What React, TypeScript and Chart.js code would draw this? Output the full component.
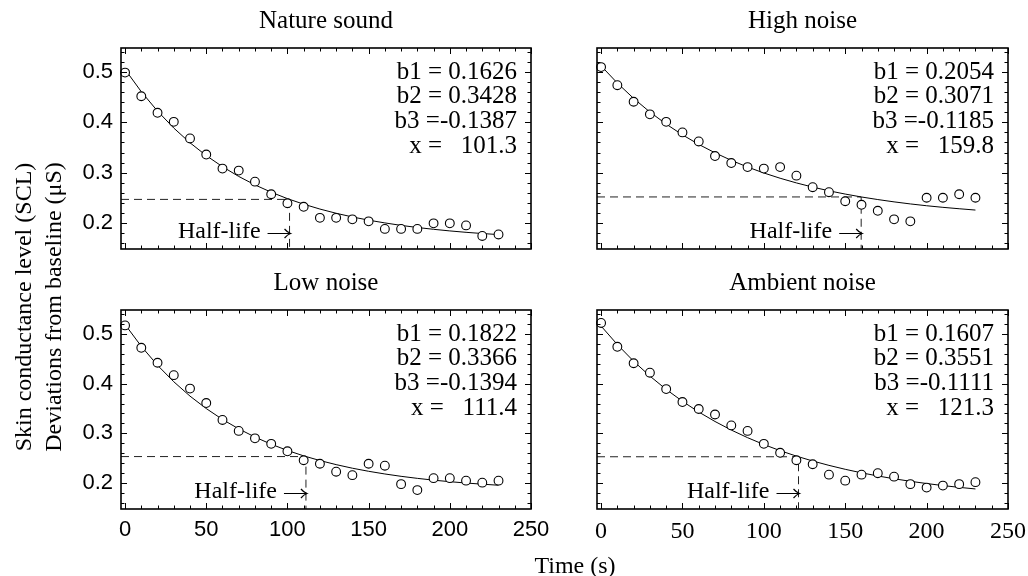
import React, { useEffect, useRef } from "react";
import { Chart, registerables } from "chart.js";

Chart.register(...registerables);

// ---------------- data ----------------
const timeSec = [0, 10, 20, 30, 40, 50, 60, 70, 80, 90, 100, 110, 120, 130, 140, 150, 160, 170, 180, 190, 200, 210, 220, 230];

const natureObs = [0.499, 0.452, 0.419, 0.401, 0.368, 0.336, 0.308, 0.304, 0.282, 0.257, 0.239, 0.232, 0.21, 0.21, 0.207, 0.203, 0.188, 0.188, 0.188, 0.199, 0.199, 0.195, 0.174, 0.177];
const natureFit = [0.5054, 0.461, 0.4224, 0.3887, 0.3594, 0.3339, 0.3118, 0.2924, 0.2756, 0.261, 0.2482, 0.2372, 0.2275, 0.2191, 0.2118, 0.2054, 0.1999, 0.195, 0.1908, 0.1872, 0.184, 0.1812, 0.1788, 0.1767];

const highObs = [0.51, 0.474, 0.441, 0.416, 0.401, 0.38, 0.362, 0.333, 0.319, 0.311, 0.308, 0.311, 0.294, 0.271, 0.261, 0.243, 0.236, 0.224, 0.207, 0.203, 0.25, 0.25, 0.257, 0.25];
const highFit = [0.5125, 0.4782, 0.4477, 0.4206, 0.3966, 0.3752, 0.3562, 0.3394, 0.3244, 0.3111, 0.2993, 0.2888, 0.2795, 0.2712, 0.2638, 0.2573, 0.2515, 0.2464, 0.2418, 0.2377, 0.2341, 0.2309, 0.2281, 0.2255];

const lowObs = [0.517, 0.472, 0.442, 0.417, 0.39, 0.361, 0.327, 0.305, 0.29, 0.279, 0.264, 0.246, 0.239, 0.223, 0.216, 0.239, 0.235, 0.198, 0.186, 0.21, 0.21, 0.205, 0.201, 0.205];
const lowFit = [0.5188, 0.475, 0.4369, 0.4038, 0.3749, 0.3499, 0.328, 0.3091, 0.2926, 0.2782, 0.2657, 0.2548, 0.2454, 0.2372, 0.23, 0.2238, 0.2184, 0.2137, 0.2096, 0.206, 0.2029, 0.2002, 0.1979, 0.1958];

const ambientObs = [0.522, 0.474, 0.441, 0.422, 0.389, 0.363, 0.349, 0.338, 0.316, 0.305, 0.279, 0.261, 0.246, 0.238, 0.217, 0.205, 0.217, 0.22, 0.213, 0.198, 0.191, 0.195, 0.198, 0.202];
const ambientFit = [0.5158, 0.4785, 0.4451, 0.4152, 0.3884, 0.3645, 0.343, 0.3239, 0.3067, 0.2914, 0.2776, 0.2653, 0.2543, 0.2445, 0.2357, 0.2278, 0.2207, 0.2144, 0.2088, 0.2037, 0.1992, 0.1951, 0.1915, 0.1883];

const panelTitles = ["Nature sound", "High noise", "Low noise", "Ambient noise"];
const natureParams = ["b1 = 0.1626", "b2 = 0.3428", "b3 =-0.1387", "x =   101.3"];
const highParams = ["b1 = 0.2054", "b2 = 0.3071", "b3 =-0.1185", "x =   159.8"];
const lowParams = ["b1 = 0.1822", "b2 = 0.3366", "b3 =-0.1394", "x =   111.4"];
const ambientParams = ["b1 = 0.1607", "b2 = 0.3551", "b3 =-0.1111", "x =   121.3"];

const halfLifeX = [101.3, 159.8, 111.4, 121.3];
const halfLifeY = [0.2467, 0.2516, 0.2534, 0.253];
const halfLifeLabel = "Half-life";

const yTickValues = [0.2, 0.3, 0.4, 0.5];
const xTickValues = [0, 50, 100, 150, 200, 250];
const X_MIN = -2.5;
const X_MAX = 250;
const Y_MIN = 0.148;
const Y_MAX = 0.548;

const yAxisTitle = ["Skin conductance level (SCL)", "Deviations from baseline (\u03bcS)"];
const xAxisTitle = "Time (s)";

// ---------------- styling / layout ----------------
const SERIF = '"Liberation Serif", "Times New Roman", Times, serif';
const SANS = '"Liberation Sans", Arial, Helvetica, sans-serif';

const panels = [
  { title: panelTitles[0], obs: natureObs, fit: natureFit, params: natureParams, hx: halfLifeX[0], hy: halfLifeY[0], L: 121, T: 48, R: 531, B: 249, yLabels: true, xLabels: false, xFont: SANS, xSize: 22 },
  { title: panelTitles[1], obs: highObs, fit: highFit, params: highParams, hx: halfLifeX[1], hy: halfLifeY[1], L: 597, T: 48, R: 1008, B: 249, yLabels: false, xLabels: false, xFont: SERIF, xSize: 24 },
  { title: panelTitles[2], obs: lowObs, fit: lowFit, params: lowParams, hx: halfLifeX[2], hy: halfLifeY[2], L: 121, T: 310, R: 531, B: 509, yLabels: true, xLabels: true, xFont: SANS, xSize: 22 },
  { title: panelTitles[3], obs: ambientObs, fit: ambientFit, params: ambientParams, hx: halfLifeX[3], hy: halfLifeY[3], L: 597, T: 310, R: 1008, B: 509, yLabels: false, xLabels: true, xFont: SERIF, xSize: 24 },
];

const YW = 60;
const TITLE_H = 42;
const XH = 45;

function Panel({ p }: { p: any }) {
  const ref = useRef<HTMLCanvasElement>(null);
  const w = p.R - p.L;
  const h = p.B - p.T;
  const cw = YW * 2 + w;
  const ch = TITLE_H + h + XH;

  useEffect(() => {
    const framePlugin = {
      id: "frameTicks",
      afterDraw(chart: any) {
        const { ctx, chartArea: a, scales } = chart;
        const xs = scales.x;
        const ys = scales.y;
        ctx.save();
        ctx.strokeStyle = "#000";
        ctx.lineWidth = 1;
        ctx.beginPath();
        for (let k = 0; k <= 25; k++) {
          const v = k * 10;
          const px = Math.round(xs.getPixelForValue(v)) + 0.5;
          const len = k % 5 === 0 ? 6 : 3.5;
          ctx.moveTo(px, a.bottom);
          ctx.lineTo(px, a.bottom - len);
          ctx.moveTo(px, a.top);
          ctx.lineTo(px, a.top + len);
        }
        for (let k = 8; k <= 27; k++) {
          const v = k * 0.02;
          const py = Math.round(ys.getPixelForValue(v)) + 0.5;
          const len = k % 5 === 0 ? 6 : 3.5;
          ctx.moveTo(a.left, py);
          ctx.lineTo(a.left + len, py);
          ctx.moveTo(a.right, py);
          ctx.lineTo(a.right - len, py);
        }
        ctx.stroke();
        ctx.lineWidth = 1.6;
        ctx.strokeRect(a.left, a.top, a.right - a.left, a.bottom - a.top);
        ctx.restore();
      },
    };

    const textPlugin = {
      id: "panelText",
      afterDatasetsDraw(chart: any) {
        const { ctx, chartArea: a, scales } = chart;
        ctx.save();
        ctx.fillStyle = "#000";
        ctx.strokeStyle = "#000";
        ctx.textAlign = "right";
        ctx.textBaseline = "middle";
        ctx.font = `25px ${SERIF}`;
        p.params.forEach((line: string, i: number) => {
          ctx.fillText(line, a.right - 14, a.top + 24 + i * 24.8);
        });
        // Half-life label with arrow pointing at the half-life time
        const tipX = scales.x.getPixelForValue(p.hx) + 1;
        const ay = a.bottom - 15.5;
        ctx.font = `24px ${SERIF}`;
        ctx.fillText(halfLifeLabel, tipX - 30, a.bottom - 17);
        ctx.lineWidth = 1.2;
        ctx.beginPath();
        ctx.moveTo(tipX - 23, ay);
        ctx.lineTo(tipX, ay);
        ctx.moveTo(tipX - 6, ay - 4.5);
        ctx.quadraticCurveTo(tipX - 3, ay - 1, tipX, ay);
        ctx.quadraticCurveTo(tipX - 3, ay + 1, tipX - 6, ay + 4.5);
        ctx.stroke();
        ctx.restore();
      },
    };

    const chart = new Chart(ref.current as HTMLCanvasElement, {
      type: "scatter",
      data: {
        datasets: [
          {
            type: "scatter",
            data: timeSec.map((t, i) => ({ x: t, y: p.obs[i] })),
            pointRadius: 4.4,
            pointBackgroundColor: "#fff",
            pointBorderColor: "#000",
            pointBorderWidth: 1.1,
            showLine: false,
            clip: false,
          } as any,
          {
            type: "line",
            data: timeSec.map((t, i) => ({ x: t, y: p.fit[i] })),
            borderColor: "#000",
            borderWidth: 1,
            pointRadius: 0,
            tension: 0,
            fill: false,
          } as any,
          {
            type: "line",
            data: [
              { x: X_MIN, y: p.hy },
              { x: p.hx, y: p.hy },
              { x: p.hx, y: Y_MIN },
            ],
            borderColor: "#222",
            borderWidth: 1,
            borderDash: [8, 5],
            pointRadius: 0,
            tension: 0,
            fill: false,
          } as any,
        ],
      },
      options: {
        responsive: false,
        animation: false,
        devicePixelRatio: 1,
        layout: { autoPadding: false, padding: 0 },
        plugins: {
          legend: { display: false },
          tooltip: { enabled: false },
          title: {
            display: true,
            text: p.title,
            color: "#000",
            font: { family: SERIF, size: 25, weight: "normal", lineHeight: 1.2 },
            padding: { top: 0, bottom: 12 },
          },
        },
        scales: {
          x: {
            type: "linear",
            min: X_MIN,
            max: X_MAX,
            grid: { display: false, drawTicks: false, tickLength: 0 },
            border: { display: false },
            ticks: {
              display: p.xLabels,
              color: "#000",
              padding: 8,
              font: { family: p.xFont, size: p.xSize },
              maxRotation: 0,
              autoSkip: false,
              callback: (v: any) => String(v),
            },
            afterBuildTicks: (s: any) => {
              s.ticks = xTickValues.map((v) => ({ value: v }));
            },
            afterFit: (s: any) => {
              s.height = XH;
            },
          },
          y: {
            type: "linear",
            position: "left",
            min: Y_MIN,
            max: Y_MAX,
            grid: { display: false, drawTicks: false, tickLength: 0 },
            border: { display: false },
            ticks: {
              display: p.yLabels,
              color: "#000",
              padding: 8,
              font: { family: SANS, size: 22 },
              autoSkip: false,
              callback: (v: any) => Number(v).toFixed(1),
            },
            afterBuildTicks: (s: any) => {
              s.ticks = yTickValues.map((v) => ({ value: v }));
            },
            afterFit: (s: any) => {
              s.width = YW;
            },
          },
          yRight: {
            type: "linear",
            position: "right",
            min: Y_MIN,
            max: Y_MAX,
            grid: { display: false, drawTicks: false, tickLength: 0 },
            border: { display: false },
            ticks: { display: false },
            afterFit: (s: any) => {
              s.width = YW;
            },
          },
        },
      } as any,
      plugins: [framePlugin, textPlugin],
    });
    return () => chart.destroy();
  }, []);

  return (
    <canvas
      ref={ref}
      width={cw}
      height={ch}
      style={{ position: "absolute", left: p.L - YW, top: p.T - TITLE_H, width: cw, height: ch }}
    />
  );
}

export default function App() {
  return (
    <div
      style={{
        position: "absolute",
        left: 0,
        top: 0,
        width: 1028,
        height: 576,
        overflow: "hidden",
        background: "#fff",
      }}
    >
      {panels.map((p, i) => (
        <Panel key={i} p={p} />
      ))}
      <div
        style={{
          position: "absolute",
          left: 38 - 200,
          top: 307 - 30,
          width: 400,
          height: 60,
          transform: "rotate(-90deg)",
          transformOrigin: "50% 50%",
          textAlign: "center",
          fontFamily: SERIF,
          fontSize: 24,
          lineHeight: "30px",
          color: "#000",
          whiteSpace: "nowrap",
        }}
      >
        <div>{yAxisTitle[0]}</div>
        <div>{yAxisTitle[1]}</div>
      </div>
      <div
        style={{
          position: "absolute",
          left: 575 - 100,
          top: 565 - 15,
          width: 200,
          height: 30,
          textAlign: "center",
          fontFamily: SERIF,
          fontSize: 24,
          lineHeight: "30px",
          color: "#000",
        }}
      >
        {xAxisTitle}
      </div>
    </div>
  );
}
